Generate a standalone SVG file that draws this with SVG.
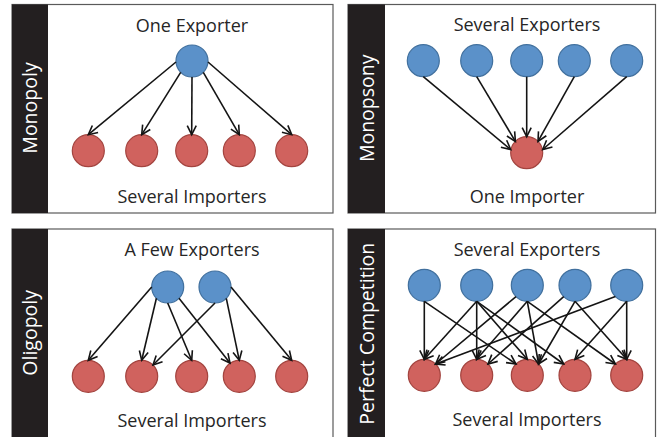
<svg xmlns="http://www.w3.org/2000/svg" width="657" height="437" viewBox="0 0 657 437">
<style>
.frame{fill:#fff;stroke:#5a5a5a;stroke-width:1.2}
.bar{fill:#231f20}
.lbl{font-family:"Open Sans","Noto Sans","Liberation Sans",sans-serif;font-size:18px;fill:#262626;text-anchor:middle}
.vlbl{font-family:"Open Sans","Noto Sans","Liberation Sans",sans-serif;font-size:19.5px;fill:#fff;text-anchor:middle}
.exp{fill:#5b91c9;stroke:#41709e;stroke-width:1.2}
.imp{fill:#d0625e;stroke:#a3443f;stroke-width:1.2}
.cn line{stroke:#141414;stroke-width:1.6;marker-end:url(#ah)}
</style>
<defs>
<marker id="ah" viewBox="-11 -6 13 12" markerWidth="13" markerHeight="12" refX="0" refY="0" orient="auto" markerUnits="userSpaceOnUse">
<path d="M-9,-4.5 L0,0 L-9,4.5" fill="none" stroke="#141414" stroke-width="1.6" stroke-linejoin="miter"/>
</marker>
</defs>

<!-- Panel 1: Monopoly -->
<g id="panel-monopoly">
<rect class="frame" x="12" y="4.5" width="321" height="208.5"/>
<rect class="bar" x="12" y="4.5" width="36" height="208.5"/>
<text class="vlbl" transform="translate(37,108) rotate(-90)">Monopoly</text>
<text class="lbl" x="192" y="31.5">One Exporter</text>
<text class="lbl" x="192" y="203">Several Importers</text>
</g>
<g id="m-exp"><circle class="exp" cx="192" cy="61" r="16"/></g>
<g id="m-imp1"><circle class="imp" cx="88.3" cy="150.7" r="16"/></g>
<g id="m-imp2"><circle class="imp" cx="141.7" cy="150.7" r="16"/></g>
<g id="m-imp3"><circle class="imp" cx="191.7" cy="150.7" r="16"/></g>
<g id="m-imp4"><circle class="imp" cx="239.3" cy="150.7" r="16"/></g>
<g id="m-imp5"><circle class="imp" cx="291.7" cy="150.7" r="16"/></g>

<!-- Panel 2: Monopsony -->
<g id="panel-monopsony">
<rect class="frame" x="348" y="4.5" width="307.5" height="208.5"/>
<rect class="bar" x="348" y="4.5" width="37" height="208.5"/>
<text class="vlbl" transform="translate(373.5,108.3) rotate(-90)">Monopsony</text>
<text class="lbl" x="527" y="31">Several Exporters</text>
<text class="lbl" x="527" y="202.7">One Importer</text>
</g>
<g id="ms-exp1"><circle class="exp" cx="423.3" cy="60.7" r="16"/></g>
<g id="ms-exp2"><circle class="exp" cx="476.7" cy="60.7" r="16"/></g>
<g id="ms-exp3"><circle class="exp" cx="526.7" cy="60.7" r="16"/></g>
<g id="ms-exp4"><circle class="exp" cx="574.3" cy="60.7" r="16"/></g>
<g id="ms-exp5"><circle class="exp" cx="626.7" cy="60.7" r="16"/></g>
<g id="ms-imp"><circle class="imp" cx="526.7" cy="152.7" r="16"/></g>

<!-- Panel 3: Oligopoly -->
<g id="panel-oligopoly">
<rect class="frame" x="12" y="229" width="321" height="212"/>
<rect class="bar" x="12" y="229" width="36" height="212"/>
<text class="vlbl" transform="translate(37,332.8) rotate(-90)">Oligopoly</text>
<text class="lbl" x="192" y="256">A Few Exporters</text>
<text class="lbl" x="192" y="427">Several Importers</text>
</g>
<g id="o-exp1"><circle class="exp" cx="167.7" cy="287" r="16"/></g>
<g id="o-exp2"><circle class="exp" cx="215" cy="287" r="16"/></g>
<g id="o-imp1"><circle class="imp" cx="88.3" cy="376.3" r="16"/></g>
<g id="o-imp2"><circle class="imp" cx="141.7" cy="376.3" r="16"/></g>
<g id="o-imp3"><circle class="imp" cx="191.7" cy="376.3" r="16"/></g>
<g id="o-imp4"><circle class="imp" cx="239.3" cy="376.3" r="16"/></g>
<g id="o-imp5"><circle class="imp" cx="291.7" cy="376.3" r="16"/></g>

<!-- Panel 4: Perfect Competition -->
<g id="panel-perfect">
<rect class="frame" x="348" y="229" width="307.5" height="212"/>
<rect class="bar" x="348" y="229" width="37" height="212"/>
<text class="vlbl" transform="translate(373.5,333.7) rotate(-90)">Perfect Competition</text>
<text class="lbl" x="527" y="256">Several Exporters</text>
<text class="lbl" x="527" y="426">Several Importers</text>
</g>
<g id="p-exp1"><circle class="exp" cx="424.3" cy="285.3" r="16"/></g>
<g id="p-exp2"><circle class="exp" cx="476.7" cy="285.3" r="16"/></g>
<g id="p-exp3"><circle class="exp" cx="527.3" cy="285.3" r="16"/></g>
<g id="p-exp4"><circle class="exp" cx="575" cy="285.3" r="16"/></g>
<g id="p-exp5"><circle class="exp" cx="626.7" cy="285.3" r="16"/></g>
<g id="p-imp1"><circle class="imp" cx="424.3" cy="375.3" r="16"/></g>
<g id="p-imp2"><circle class="imp" cx="476.7" cy="375.3" r="16"/></g>
<g id="p-imp3"><circle class="imp" cx="527.3" cy="375.3" r="16"/></g>
<g id="p-imp4"><circle class="imp" cx="575" cy="375.3" r="16"/></g>
<g id="p-imp5"><circle class="imp" cx="626.7" cy="375.3" r="16"/></g>

<g id="connectors" class="cn">
<!-- monopoly -->
<line x1="176" y1="62" x2="88.3" y2="134.7"/>
<line x1="180.7" y1="72.3" x2="141.7" y2="134.7"/>
<line x1="192" y1="77" x2="191.7" y2="134.7"/>
<line x1="203.3" y1="72.3" x2="239.3" y2="134.7"/>
<line x1="208" y1="62" x2="291.7" y2="134.7"/>
<!-- monopsony -->
<line x1="423.3" y1="76.7" x2="510.7" y2="149.5"/>
<line x1="476.7" y1="76.7" x2="515.4" y2="141.4"/>
<line x1="526.7" y1="76.7" x2="526.7" y2="136.7"/>
<line x1="574.3" y1="76.7" x2="538" y2="141.4"/>
<line x1="626.7" y1="76.7" x2="542.7" y2="149.5"/>
<!-- oligopoly -->
<line x1="151.7" y1="287" x2="88.3" y2="360.3"/>
<line x1="156.4" y1="298.3" x2="141.7" y2="360.3"/>
<line x1="167.7" y1="303" x2="191.7" y2="360.3"/>
<line x1="179" y1="298.3" x2="230" y2="363"/>
<line x1="215" y1="303" x2="153" y2="365"/>
<line x1="226.3" y1="298.3" x2="239.3" y2="360.3"/>
<line x1="231" y1="287" x2="291.7" y2="360.3"/>
<!-- perfect competition -->
<line x1="424.3" y1="301.3" x2="424.3" y2="359.3"/>
<line x1="424.3" y1="301.3" x2="516" y2="364"/>
<line x1="476.7" y1="301.3" x2="424.3" y2="359.3"/>
<line x1="476.7" y1="301.3" x2="476.7" y2="359.3"/>
<line x1="476.7" y1="301.3" x2="527.3" y2="359.3"/>
<line x1="476.7" y1="301.3" x2="563.7" y2="364"/>
<line x1="516" y1="296.6" x2="435.6" y2="364"/>
<line x1="527.3" y1="301.3" x2="476.7" y2="359.3"/>
<line x1="527.3" y1="301.3" x2="538.6" y2="364"/>
<line x1="527.3" y1="301.3" x2="615.4" y2="364"/>
<line x1="563.7" y1="296.6" x2="488" y2="364"/>
<line x1="575" y1="301.3" x2="538.6" y2="364"/>
<line x1="575" y1="301.3" x2="626.7" y2="359.3"/>
<line x1="615.4" y1="296.6" x2="435.6" y2="364"/>
<line x1="626.7" y1="301.3" x2="575" y2="359.3"/>
<line x1="626.7" y1="301.3" x2="626.7" y2="359.3"/>
</g>
</svg>
